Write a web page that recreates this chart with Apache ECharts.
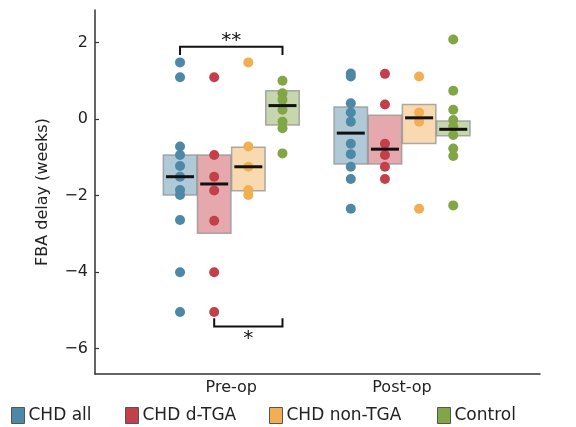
<!DOCTYPE html>
<html><head><meta charset="utf-8">
<script src="https://cdn.jsdelivr.net/npm/echarts@6/dist/echarts.min.js"></script>
<style>html,body{margin:0;padding:0;background:#fff}#c{width:576px;height:427px}</style>
</head><body><div id="c"></div>
<script>
// ---- data ----
const groups = ['CHD all', 'CHD d-TGA', 'CHD non-TGA', 'Control'];
const phases = ['Pre-op', 'Post-op'];
const yTicks = [-6, -4, -2, 0, 2];

const preAll = [1.48, 1.09, -0.72, -0.94, -1.23, -1.51, -1.86, -1.99, -2.64, -4.01, -5.05];
const preTGA = [1.09, -0.94, -1.51, -1.87, -2.66, -4.01, -5.05];
const preNon = [1.48, -0.72, -1.25, -1.86, -1.99];
const preCtl = [1.00, 0.67, 0.50, 0.24, -0.07, -0.24, -0.90];

const postAll = [1.19, 1.11, 0.41, 0.17, -0.07, -0.65, -0.92, -1.25, -1.57, -2.35];
const postTGA = [1.18, 0.38, -0.65, -0.94, -1.25, -1.57];
const postNon = [1.11, 0.17, -0.07, -2.35];
const postCtl = [2.08, 0.74, 0.24, -0.03, -0.20, -0.42, -0.77, -0.97, -2.26];

// box: lower edge, median, upper edge (order: CHD all, d-TGA, non-TGA, Control)
const preLow  = [-1.99, -2.99, -1.88, -0.16];
const preMed  = [-1.51, -1.70, -1.25,  0.35];
const preHigh = [-0.94, -0.94, -0.74,  0.74];
const postLow  = [-1.18, -1.18, -0.64, -0.44];
const postMed  = [-0.37, -0.79,  0.03, -0.27];
const postHigh = [ 0.31,  0.10,  0.38, -0.05];

// significance brackets (group indices within Pre-op)
const sigFrom = [0, 1];
const sigTo = [3, 3];
const sigLevel = [1.89, -5.43];
const sigTip = [1.67, -5.21];
const sigText = ['**', '*'];

// ---- build ----
const colors = ['#4d88a6', '#c33f49', '#f2ae50', '#82a546'];
const fills = ['rgba(77,136,166,0.45)', 'rgba(195,63,73,0.45)', 'rgba(242,174,80,0.45)', 'rgba(130,165,70,0.45)'];
const phaseOffset = [0, 5];
const pos = (p, g) => phaseOffset[p] + g;

const preVals = [preAll, preTGA, preNon, preCtl];
const postVals = [postAll, postTGA, postNon, postCtl];
const lows = [preLow, postLow], meds = [preMed, postMed], highs = [preHigh, postHigh];

const series = [];
const boxData = [];
const medData = [];
for (let p = 0; p < 2; p++) {
  for (let g = 0; g < 4; g++) {
    boxData.push([pos(p, g), lows[p][g], highs[p][g], g]);
    medData.push([pos(p, g), meds[p][g]]);
  }
}
const halfW = 0.49;
series.push({
  type: 'custom', z: 1, silent: true,
  data: boxData,
  renderItem: (params, api) => {
    const x = api.value(0), lo = api.value(1), hi = api.value(2), g = api.value(3);
    const a = api.coord([x - halfW, hi]);
    const b = api.coord([x + halfW, lo]);
    return {
      type: 'rect',
      shape: { x: a[0], y: a[1], width: b[0] - a[0], height: b[1] - a[1] },
      style: { fill: fills[g], stroke: 'rgba(150,150,150,0.8)', lineWidth: 1.5 }
    };
  }
});
groups.forEach((name, g) => {
  const d = [];
  preVals[g].forEach(v => d.push([pos(0, g), v]));
  postVals[g].forEach(v => d.push([pos(1, g), v]));
  series.push({
    type: 'scatter', name: name, z: 2, data: d,
    symbol: 'circle', symbolSize: 10,
    itemStyle: { color: colors[g], opacity: 1 }
  });
});
series.push({
  type: 'custom', z: 3, silent: true,
  data: medData,
  renderItem: (params, api) => {
    const x = api.value(0), m = api.value(1);
    const a = api.coord([x - 0.41, m]);
    const b = api.coord([x + 0.41, m]);
    return { type: 'line', shape: { x1: a[0], y1: a[1], x2: b[0], y2: b[1] },
      style: { stroke: '#111', lineWidth: 3 } };
  }
});
const sigData = sigFrom.map((f, i) => [pos(0, f), pos(0, sigTo[i]), sigLevel[i], sigTip[i], i]);
series.push({
  type: 'custom', z: 4, silent: true,
  data: sigData,
  renderItem: (params, api) => {
    const x1 = api.value(0), x2 = api.value(1), yl = api.value(2), yt = api.value(3), i = api.value(4);
    const p1 = api.coord([x1, yt]), p2 = api.coord([x1, yl]), p3 = api.coord([x2, yl]), p4 = api.coord([x2, yt]);
    const up = yl > yt;
    return {
      type: 'group',
      children: [
        { type: 'polyline', shape: { points: [p1, p2, p3, p4] }, style: { stroke: '#111', lineWidth: 2, fill: null } },
        { type: 'text', style: {
            text: sigText[i], x: (p2[0] + p3[0]) / 2, y: up ? p2[1] + 4 : p2[1] + 2,
            textAlign: 'center', textVerticalAlign: up ? 'bottom' : 'top',
            font: '20px "DejaVu Sans"', fill: '#111' } }
      ]
    };
  }
});

const legendLeft = [11, 125, 269, 437];
const legends = groups.map((name, g) => ({
  data: [name], left: legendLeft[g], top: 407, padding: 0, icon: 'rect',
  itemWidth: 13, itemHeight: 16, itemGap: 0,
  itemStyle: { borderColor: '#555', borderWidth: 1 },
  textStyle: { fontSize: 17, color: '#222', fontFamily: 'DejaVu Sans', padding: [0, 0, 0, -1] }
}));

const chart = echarts.init(document.getElementById('c'));
chart.setOption({
  animation: false,
  backgroundColor: '#fff',
  textStyle: { fontFamily: 'DejaVu Sans' },
  grid: { left: 95, right: 36, top: 10, bottom: 53, containLabel: false },
  legend: legends,
  xAxis: {
    type: 'value', min: -2.49, max: 10.54,
    splitLine: { show: false },
    axisLine: { show: true, onZero: false, lineStyle: { color: '#333', width: 1.5 } },
    axisTick: { show: false },
    axisLabel: {
      customValues: [1.5, 6.5], margin: 6,
      formatter: v => (v < 4 ? phases[0] : phases[1]),
      fontSize: 16, color: '#222', fontFamily: 'DejaVu Sans'
    }
  },
  yAxis: {
    type: 'value', min: -6.67, max: 2.85,
    name: 'FBA delay (weeks)', nameLocation: 'middle', nameGap: 44,
    nameTextStyle: { fontSize: 16, color: '#222', fontFamily: 'DejaVu Sans' },
    splitLine: { show: false },
    axisLine: { show: true, onZero: false, lineStyle: { color: '#333', width: 1.5 } },
    axisTick: { show: true, inside: true, length: 4, customValues: yTicks, lineStyle: { color: '#333', width: 1.2 } },
    axisLabel: {
      customValues: yTicks, margin: 7,
      formatter: v => String(v).replace('-', '\u2212'),
      fontSize: 16, color: '#222', fontFamily: 'DejaVu Sans'
    }
  },
  series: series
});
</script>
</body></html>
